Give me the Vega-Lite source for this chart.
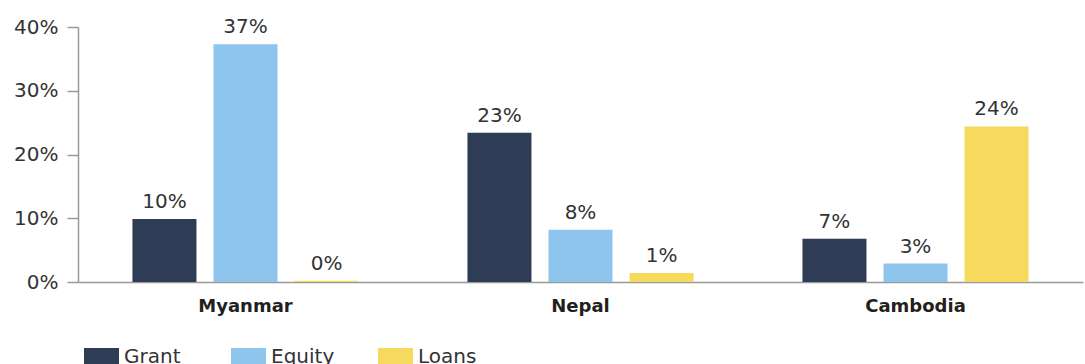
{
  "$schema": "https://vega.github.io/schema/vega-lite/v6.json",
  "width": 1005,
  "height": 255,
  "autosize": {"type": "none"},
  "padding": {"left": 78, "top": 27, "right": 2, "bottom": 82},
  "background": "white",
  "config": {"view": {"stroke": null}, "font": "DejaVu Sans"},
  "data": {"values": [
    {"country": "Myanmar", "type": "Grant", "value": 0.099},
    {"country": "Myanmar", "type": "Equity", "value": 0.373},
    {"country": "Myanmar", "type": "Loans", "value": 0.002},
    {"country": "Nepal", "type": "Grant", "value": 0.234},
    {"country": "Nepal", "type": "Equity", "value": 0.082},
    {"country": "Nepal", "type": "Loans", "value": 0.014},
    {"country": "Cambodia", "type": "Grant", "value": 0.068},
    {"country": "Cambodia", "type": "Equity", "value": 0.029},
    {"country": "Cambodia", "type": "Loans", "value": 0.244}
  ]},
  "encoding": {
    "x": {"field": "country", "type": "nominal", "sort": ["Myanmar", "Nepal", "Cambodia"],
      "scale": {"paddingInner": 0.325, "paddingOuter": 0.1625},
      "axis": {"title": null, "labelAngle": 0, "ticks": false, "domainColor": "#999999", "domainWidth": 1.5,
        "labelFont": "DejaVu Sans", "labelFontWeight": "bold", "labelFontSize": 18, "labelColor": "#231f20", "labelPadding": 15}},
    "xOffset": {"field": "type", "sort": ["Grant", "Equity", "Loans"], "scale": {"paddingInner": 0.21, "paddingOuter": 0}},
    "y": {"field": "value", "type": "quantitative", "scale": {"domain": [0, 0.4]},
      "axis": {"title": null, "format": ".0%", "values": [0, 0.1, 0.2, 0.3, 0.4], "grid": false, "domain": true,
        "domainColor": "#999999", "domainWidth": 1.5, "tickColor": "#999999", "tickSize": 11, "tickWidth": 1.5,
        "labelFont": "DejaVu Sans", "labelFontSize": 20, "labelColor": "#333333", "labelPadding": 9}}
  },
  "layer": [
    {"mark": {"type": "bar"},
      "encoding": {
        "color": {"field": "type", "type": "nominal", "sort": ["Grant", "Equity", "Loans"],
          "scale": {"domain": ["Grant", "Equity", "Loans"], "range": ["#2f3c56", "#8ec5ec", "#f6da5e"]},
          "legend": {"title": null, "orient": "none", "legendX": 6, "legendY": 312, "direction": "horizontal",
            "columns": 3, "gridAlign": "all", "columnPadding": 43,
            "symbolType": "M-1,-0.5H1V0.5H-1Z", "symbolSize": 1225, "symbolStrokeWidth": 0,
            "labelFont": "DejaVu Sans", "labelFontSize": 20, "labelColor": "#333333", "labelOffset": 5}}}},
    {"mark": {"type": "text", "baseline": "bottom", "dy": -7, "fontSize": 20, "font": "DejaVu Sans", "color": "#333333"},
      "encoding": {"text": {"field": "value", "type": "quantitative", "format": ".0%"}}}
  ]
}
